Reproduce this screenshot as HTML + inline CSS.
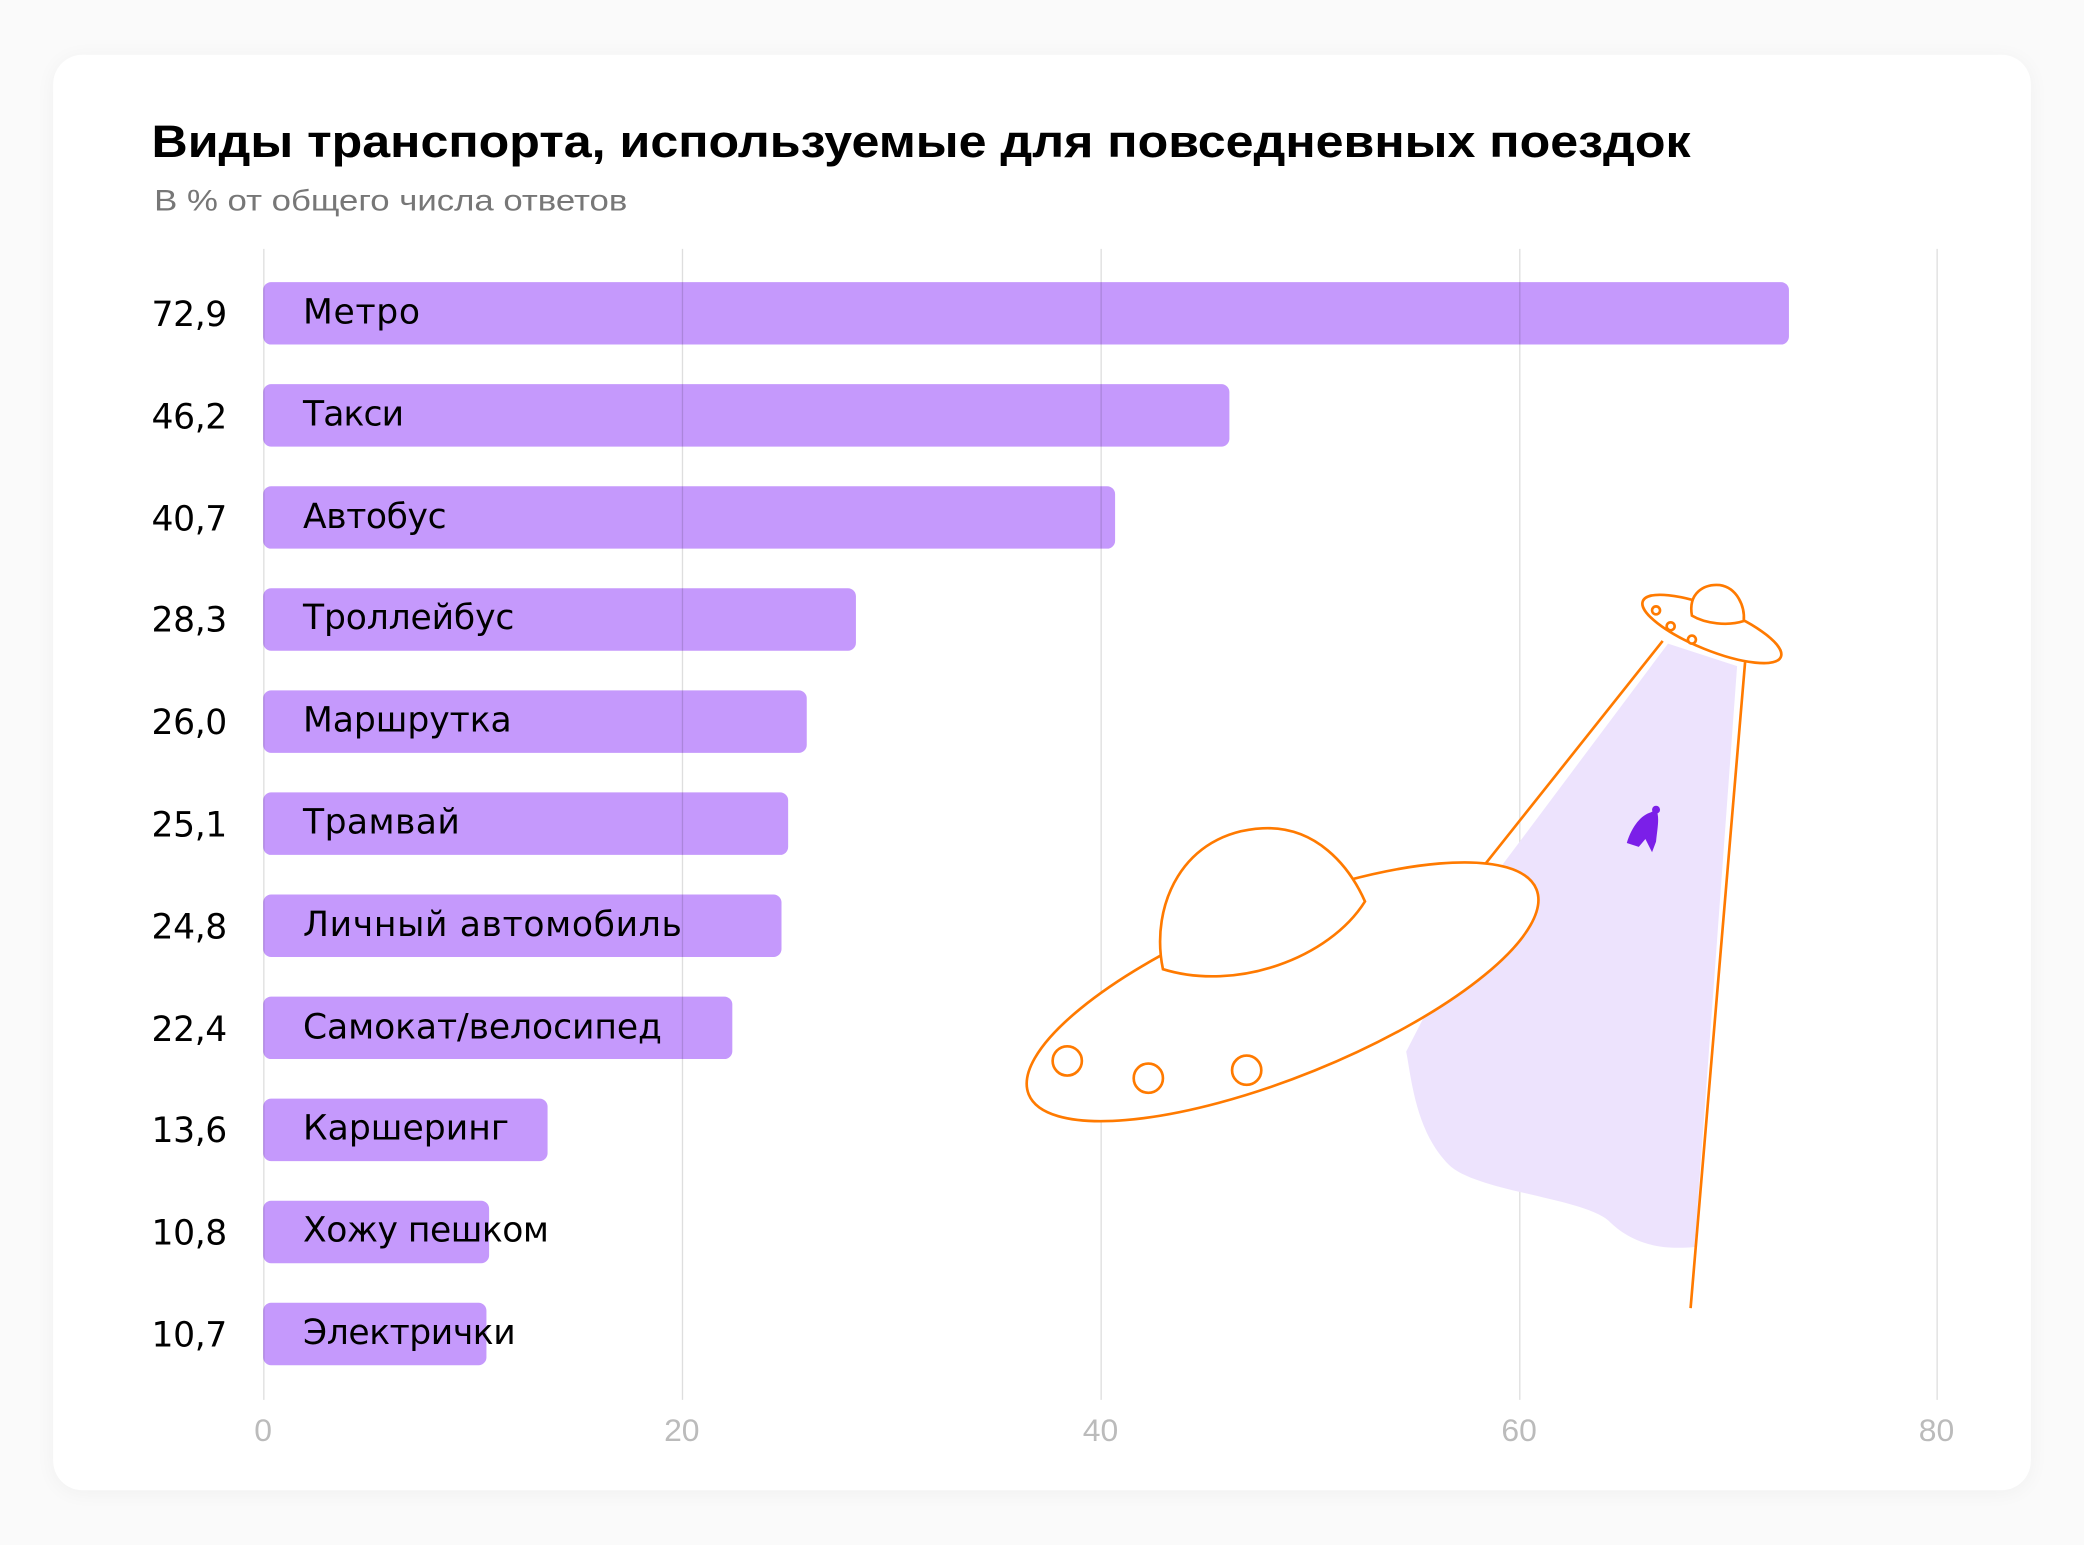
<!DOCTYPE html>
<html><head><meta charset="utf-8"><style>html,body{margin:0;padding:0;background:#fafafa}svg{display:block}</style></head>
<body>
<svg width="2084" height="1545" viewBox="0 0 1568 1160" xmlns="http://www.w3.org/2000/svg" font-family="'Liberation Sans', 'DejaVu Sans', sans-serif">
<defs><filter id="sh" x="-5%" y="-5%" width="110%" height="110%"><feGaussianBlur stdDeviation="8"/></filter></defs>
<rect x="0" y="0" width="1568" height="1160" fill="#fafafa"/>
<rect x="40" y="42" width="1488" height="1080" rx="22" fill="#000" opacity="0.04" filter="url(#sh)"/>
<rect x="40" y="40" width="1488" height="1080" rx="22" fill="#fff"/>
<text x="114" y="117" font-size="34" font-weight="bold" fill="#000" textLength="1158" lengthAdjust="spacingAndGlyphs">Виды транспорта, используемые для повседневных поездок</text>
<text x="116" y="157" font-size="22" fill="#777" textLength="356" lengthAdjust="spacingAndGlyphs">В % от общего числа ответов</text>
<g fill="#c599fc">
<rect x="198" y="211" width="1148" height="47" rx="6"/>
<rect x="198" y="287.8" width="727" height="47" rx="6"/>
<rect x="198" y="364.6" width="641" height="47" rx="6"/>
<rect x="198" y="441.4" width="446" height="47" rx="6"/>
<rect x="198" y="518.2" width="409" height="47" rx="6"/>
<rect x="198" y="595" width="395" height="47" rx="6"/>
<rect x="198" y="671.8" width="390" height="47" rx="6"/>
<rect x="198" y="748.6" width="353" height="47" rx="6"/>
<rect x="198" y="825.4" width="214" height="47" rx="6"/>
<rect x="198" y="902.2" width="170" height="47" rx="6"/>
<rect x="198" y="979" width="168" height="47" rx="6"/>
</g>
<g stroke="#000" stroke-opacity="0.13" stroke-width="1">
<line x1="198.5" y1="186" x2="198.5" y2="1052"/>
<line x1="513.5" y1="186" x2="513.5" y2="1052"/>
<line x1="828.5" y1="186" x2="828.5" y2="1052"/>
<line x1="1143.5" y1="186" x2="1143.5" y2="1052"/>
<line x1="1457.5" y1="186" x2="1457.5" y2="1052"/>
</g>
<g font-size="24" fill="#bbb" text-anchor="middle">
<text x="198" y="1083">0</text><text x="513" y="1083">20</text><text x="828" y="1083">40</text><text x="1143" y="1083">60</text><text x="1457" y="1083">80</text>
</g>
<path d="M1255,483 L1307,500 L1275,937 C1245,940 1225,932 1210,917 C1190,900 1110,895 1090,875 C1065,850 1062,810 1058,790 L1130,650 Z" fill="#ede3fd"/>
<g fill="none" stroke="#ff7a00" stroke-width="2">
<line x1="1251" y1="481" x2="1115" y2="652"/>
<line x1="1313" y1="497" x2="1272" y2="983"/>
</g>
<ellipse cx="965" cy="745" rx="206" ry="64" transform="rotate(-22 965 745)" fill="#fff" stroke="#ff7a00" stroke-width="2"/>
<path d="M875,728 C865,680 890,625 950,622 C990,620 1015,650 1027,677 C1000,720 930,745 875,728 Z" fill="#fff" stroke="#ff7a00" stroke-width="2"/>
<g fill="#fff" stroke="#ff7a00" stroke-width="2">
<circle cx="803" cy="797" r="11"/><circle cx="864" cy="810" r="11"/><circle cx="938" cy="804" r="11"/>
<ellipse cx="1288" cy="472" rx="56" ry="16" transform="rotate(22 1288 472)"/>
<path d="M1273,462 C1270,445 1282,438 1294,439 C1307,441 1313,455 1312,466 C1300,470 1283,468 1273,462 Z"/>
<circle cx="1246" cy="458" r="3"/><circle cx="1257" cy="470" r="3"/><circle cx="1273" cy="480" r="3"/>
</g>
<path d="M1224,633 C1228,620 1235,612 1242,610 L1246,608 C1249,613 1247,622 1246,632 L1243,640 L1238,630 L1233,636 Z" fill="#7b1fe8"/>
<circle cx="1246" cy="608" r="3" fill="#7b1fe8"/>
<g font-size="26" fill="#000" lengthAdjust="spacingAndGlyphs" font-family="'DejaVu Sans', sans-serif">
<text x="114" y="244" textLength="57">72,9</text><text x="114" y="321" textLength="57">46,2</text><text x="114" y="398" textLength="57">40,7</text><text x="114" y="474" textLength="57">28,3</text><text x="114" y="551" textLength="57">26,0</text><text x="114" y="628" textLength="57">25,1</text><text x="114" y="705" textLength="57">24,8</text><text x="114" y="782" textLength="57">22,4</text><text x="114" y="858" textLength="57">13,6</text><text x="114" y="935" textLength="57">10,8</text><text x="114" y="1012" textLength="57">10,7</text>
<text x="228" y="242" textLength="88">Метро</text><text x="228" y="319" textLength="76">Такси</text><text x="228" y="396" textLength="108">Автобус</text><text x="228" y="472" textLength="159">Троллейбус</text><text x="228" y="549" textLength="157">Маршрутка</text><text x="228" y="626" textLength="118">Трамвай</text><text x="228" y="703" textLength="285">Личный автомобиль</text><text x="228" y="780" textLength="270">Самокат/велосипед</text><text x="228" y="856" textLength="155">Каршеринг</text><text x="228" y="933" textLength="185">Хожу пешком</text><text x="228" y="1010" textLength="160">Электрички</text>
</g>
</svg>
</body></html>
